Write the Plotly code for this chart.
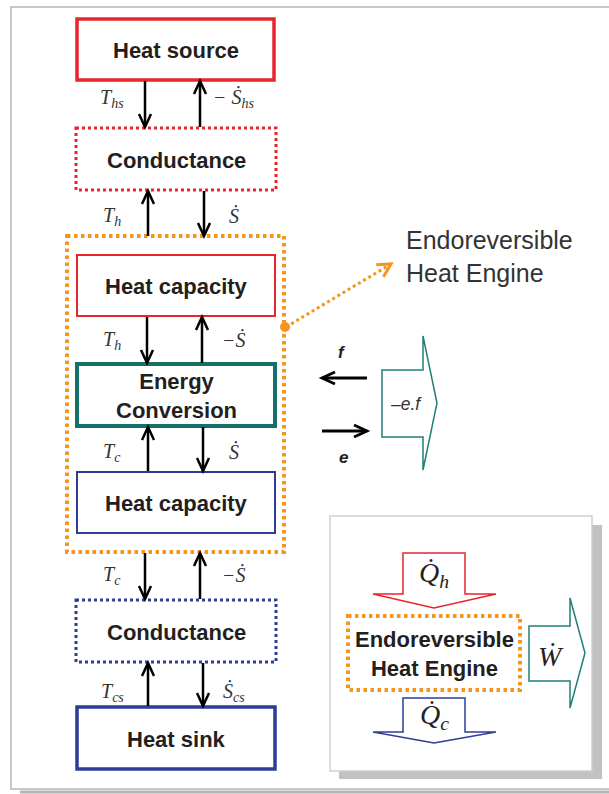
import numpy as np
import plotly.graph_objects as go

# ---------------- data (text content of the diagram) ----------------
box_labels = ["Heat source", "Conductance", "Heat capacity", "Energy<br>Conversion",
              "Heat capacity", "Conductance", "Heat sink"]
left_symbols = ["T", "T", "T", "T", "T", "T"]
left_subs = ["hs", "h", "h", "c", "c", "cs"]
left_dirs = ["down", "up", "down", "up", "down", "up"]
right_symbols = ["− Ṡ", "Ṡ", "−Ṡ", "Ṡ", "−Ṡ", "Ṡ"]
right_subs = ["hs", "", "", "", "", "cs"]
right_dirs = ["up", "down", "up", "down", "up", "down"]
engine_label = "Endoreversible<br>Heat Engine"
port_labels = ["f", "e"]
power_label = "–e.f"
legend_symbols = ["Q̇", "Q̇", "Ẇ"]
legend_subs = ["h", "c", ""]

# ---------------- styles ----------------
RED = "#e8242c"
BLUE = "#2f3d96"
TEAL = "#16706a"
TEAL2 = "#1f8078"
ORANGE = "#f7941d"
GRAY = "#c8c8c8"
TXT = "#231f20"
SANS = "Liberation Sans, Arial, sans-serif"
SERIF = "Liberation Serif, DejaVu Serif, Times New Roman, serif"

shapes = []
annotations = []


def line(x0, y0, x1, y1, color, width, dash="solid"):
    shapes.append(dict(type="line", x0=x0, y0=y0, x1=x1, y1=y1, xref="x", yref="y",
                       line=dict(color=color, width=width, dash=dash)))


def rect(x0, y0, x1, y1, color, width, dash="solid", fill="rgba(0,0,0,0)"):
    shapes.append(dict(type="rect", x0=x0, y0=y0, x1=x1, y1=y1, xref="x", yref="y",
                       fillcolor=fill, line=dict(color=color, width=width, dash=dash)))


def path(pts, color, width, closed=False, fill="rgba(0,0,0,0)", dash="solid"):
    d = "M " + " L ".join(f"{x:.2f},{y:.2f}" for x, y in pts)
    if closed:
        d += " Z"
    shapes.append(dict(type="path", path=d, xref="x", yref="y", fillcolor=fill,
                       line=dict(color=color, width=width, dash=dash)))


def arrow(x0, y0, x1, y1, color="#000", width=2.5, L=13, W=6, dash="solid"):
    line(x0, y0, x1, y1, color, width, dash)
    u = np.array([x1 - x0, y1 - y0], float)
    u /= np.linalg.norm(u)
    p = np.array([-u[1], u[0]])
    tip = np.array([x1, y1], float)
    base = tip - L * u
    path([tuple(base + W * p), tuple(tip), tuple(base - W * p)], color, width)


def text(x, y, t, size, color=TXT, family=SANS, xanchor="center"):
    annotations.append(dict(x=x, y=y, xref="x", yref="y", text=t, showarrow=False,
                            xanchor=xanchor, yanchor="middle",
                            font=dict(size=size, color=color, family=family)))


def math(sym, sub):
    s = f"<i>{sym}</i>"
    if sub:
        s += f"<sub><i>{sub}</i></sub>"
    return s


# ---------------- outer page frame ----------------
line(11, 7, 609, 7, GRAY, 2)
line(11, 6, 11, 790, GRAY, 2)
line(11, 789, 609, 789, GRAY, 2)
line(20, 792, 609, 792, "#b4b4b4", 3)

# ---------------- main chain of boxes ----------------
box_geom = [
    (77, 19, 274, 80, RED, 3.5, "solid"),
    (76, 128, 276, 190, RED, 3, "3px,3px"),
    (77, 255, 275, 316, RED, 2, "solid"),
    (77, 364, 275, 426, TEAL, 4, "solid"),
    (77, 472, 275, 533, BLUE, 2, "solid"),
    (76, 600, 276, 662, BLUE, 3, "3px,3px"),
    (77, 707, 275, 769, BLUE, 3.5, "solid"),
]
# endoreversible engine (orange dotted frame)
rect(67, 236, 284, 552, ORANGE, 4, dash="3.5px,3.5px")

for (x0, y0, x1, y1, c, w, d), lab in zip(box_geom, box_labels):
    rect(x0, y0, x1, y1, c, w, dash=d)
    text((x0 + x1) / 2, (y0 + y1) / 2 + 1, f"<b>{lab}</b>", 22)

# arrows between boxes
spans = [(81, 127), (191, 236), (317, 363), (427, 471), (553, 599), (663, 706)]
left_x = [145, 148, 147, 148, 145, 148]
right_x = [200, 204, 202, 203, 200, 203]
label_y = [98, 216, 340, 452, 575, 692]
for i, (ya, yb) in enumerate(spans):
    for xx, dr in ((left_x[i], left_dirs[i]), (right_x[i], right_dirs[i])):
        if dr == "down":
            arrow(xx, ya, xx, yb)
        else:
            arrow(xx, yb, xx, ya)
    text(112, label_y[i], math(left_symbols[i], left_subs[i]), 20, "#333333", SERIF)
    text(234, label_y[i], math(right_symbols[i], right_subs[i]), 20, "#333333", SERIF)

# ---------------- callout "Endoreversible Heat Engine" ----------------
arrow(286, 327, 391, 264, ORANGE, 3, L=13, W=7, dash="3px,3px")
shapes.append(dict(type="circle", x0=280, y0=322, x1=290, y1=332, xref="x", yref="y",
                   fillcolor=ORANGE, line=dict(color=ORANGE, width=0)))
annotations.append(dict(x=404, y=256, xref="x", yref="y", text=engine_label, showarrow=False,
                        xanchor="left", yanchor="middle", align="left",
                        font=dict(size=25, color="#333333", family=SANS)))

# ---------------- ports f / e and power block arrow ----------------
arrow(367, 378, 322, 378, "#000", 2.8, L=13, W=6)
arrow(322, 431, 367, 431, "#000", 2.8, L=13, W=6)
text(342, 352, f"<b><i>{port_labels[0]}</i></b>", 17, "#222")
text(343, 457, f"<b><i>{port_labels[1]}</i></b>", 17, "#222")
path([(382, 370), (423, 370), (423, 336), (437, 403), (423, 470), (423, 437), (382, 437)],
     TEAL2, 1.5, closed=True, fill="white")
text(406, 404, f"<i>{power_label}</i>", 17.5, "#333")

# ---------------- legend box ----------------
rect(339, 525, 602, 779, "rgba(0,0,0,0)", 0, fill="#c2c2c2")
rect(330, 516, 592, 771, "#cfcfcf", 1.5, fill="white")

# heat in (red down block arrow)
path([(403, 553), (465, 553), (465, 594), (496, 594), (434, 608), (373, 594), (403, 594)],
     RED, 1.5, closed=True, fill="white")
text(434, 574, math(legend_symbols[0], legend_subs[0]), 28, "#222", SERIF)
# heat out (blue down block arrow)
path([(403, 698), (465, 698), (465, 732), (496, 732), (434, 743), (373, 732), (403, 732)],
     BLUE, 1.5, closed=True, fill="white")
text(434, 716, math(legend_symbols[1], legend_subs[1]), 28, "#222", SERIF)
# engine box
rect(348, 616, 520, 690, ORANGE, 4, dash="3.5px,3.5px")
text(434, 654, f"<b>{engine_label}</b>", 22)
# work out (teal right block arrow)
path([(529, 626), (570, 626), (570, 598), (585, 653), (570, 708), (570, 681), (529, 681)],
     TEAL2, 1.5, closed=True, fill="white")
text(551, 656, math(legend_symbols[2], legend_subs[2]), 28, "#222", SERIF)

fig = go.Figure()
fig.update_layout(
    width=609, height=794,
    margin=dict(l=0, r=0, t=0, b=0),
    paper_bgcolor="white", plot_bgcolor="white",
    xaxis=dict(range=[0, 609], visible=False, fixedrange=True),
    yaxis=dict(range=[794, 0], visible=False, fixedrange=True),
    shapes=shapes, annotations=annotations, showlegend=False,
)
fig.write_html("out.html", config={"displayModeBar": False},
               post_script="document.body.style.margin='0';document.body.style.overflow='hidden';")
